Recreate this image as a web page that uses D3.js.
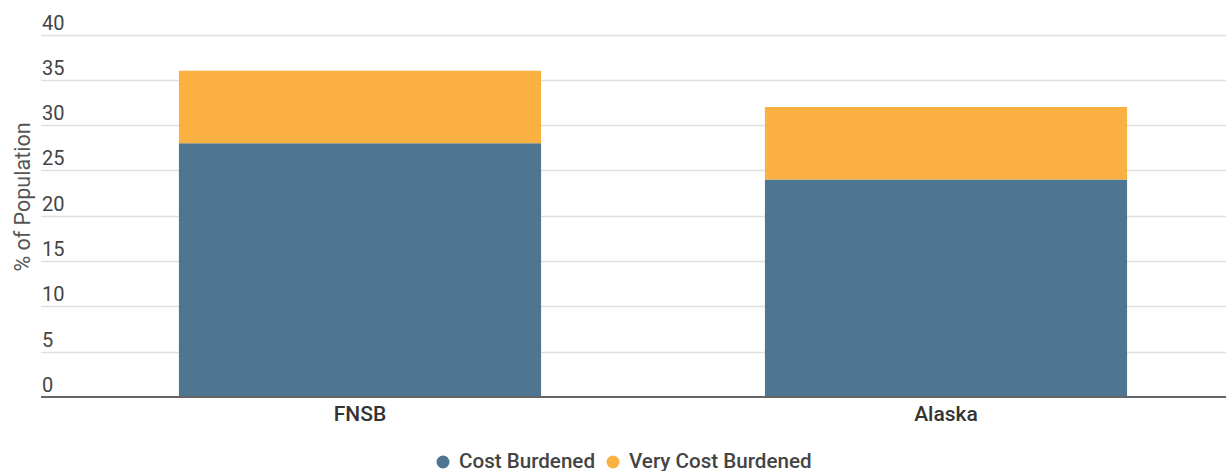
<!DOCTYPE html>
<html>
<head>
<meta charset="utf-8">
<script src="https://cdn.jsdelivr.net/npm/d3@7"></script>
<style>
  html, body { margin: 0; padding: 0; background: #fff; }
  svg { display: block; font-family: Roboto, "Noto Sans", sans-serif; }
</style>
</head>
<body>
<svg id="chart" width="1226" height="471"></svg>
<script>
// Housing cost burden by area (% of population)
const categories = ["FNSB", "Alaska"];
const costBurdened = [28, 24];
const veryCostBurdened = [8, 8];
const seriesNames = ["Cost Burdened", "Very Cost Burdened"];
const yTicks = [0, 5, 10, 15, 20, 25, 30, 35, 40];

const colors = ["#4e7691", "#fbb142"];

const svg = d3.select("#chart");
const W = 1226;

const plotLeft = 41, plotRight = W;
const y = d3.scaleLinear().domain([0, 40]).range([397, 34.5]);
const x = d3.scaleBand()
  .domain(categories)
  .range([67, 1239])
  .paddingInner(0.382)
  .paddingOuter(0.191);

// gridlines
svg.append("g")
  .selectAll("line")
  .data(yTicks.filter(d => d !== 0))
  .join("line")
  .attr("x1", plotLeft).attr("x2", plotRight)
  .attr("y1", d => Math.round(y(d)) + 0.5).attr("y2", d => Math.round(y(d)) + 0.5)
  .attr("stroke", "#e0e0e0").attr("stroke-width", 1.5);

// y tick labels sit just above each gridline
svg.append("g")
  .selectAll("text")
  .data(yTicks)
  .join("text")
  .attr("x", 42)
  .attr("y", d => y(d) - 5)
  .attr("font-size", 20)
  .attr("fill", "#444")
  .text(d => d);

// stacked bars
const rows = categories.map((c, i) => ({ cat: c, [seriesNames[0]]: costBurdened[i], [seriesNames[1]]: veryCostBurdened[i] }));
const stacked = d3.stack().keys(seriesNames)(rows);

svg.append("g")
  .selectAll("g")
  .data(stacked)
  .join("g")
  .attr("fill", (d, i) => colors[i])
  .selectAll("rect")
  .data(d => d)
  .join("rect")
  .attr("x", d => x(d.data.cat))
  .attr("width", x.bandwidth())
  .attr("y", d => y(d[1]))
  .attr("height", d => y(d[0]) - y(d[1]));

// baseline
svg.append("line")
  .attr("x1", plotLeft).attr("x2", plotRight)
  .attr("y1", y(0)).attr("y2", y(0))
  .attr("stroke", "#666").attr("stroke-width", 2);

// category labels
svg.append("g")
  .selectAll("text")
  .data(categories)
  .join("text")
  .attr("x", d => x(d) + x.bandwidth() / 2)
  .attr("y", 421)
  .attr("text-anchor", "middle")
  .attr("font-size", 21)
  .attr("font-weight", 500)
  .attr("fill", "#333")
  .text(d => d);

// y axis title
svg.append("text")
  .attr("transform", "translate(30,197) rotate(-90)")
  .attr("text-anchor", "middle")
  .attr("font-size", 21.5)
  .attr("fill", "#555")
  .text("% of Population");

// legend
const legend = svg.append("g");
const legendX = [443, 613];
seriesNames.forEach((name, i) => {
  legend.append("circle")
    .attr("cx", legendX[i]).attr("cy", 462).attr("r", 6.5)
    .attr("fill", colors[i]);
  legend.append("text")
    .attr("x", legendX[i] + 16).attr("y", 468)
    .attr("font-size", 20.6)
    .attr("font-weight", 500)
    .attr("fill", "#444")
    .text(name);
});
</script>
</body>
</html>
